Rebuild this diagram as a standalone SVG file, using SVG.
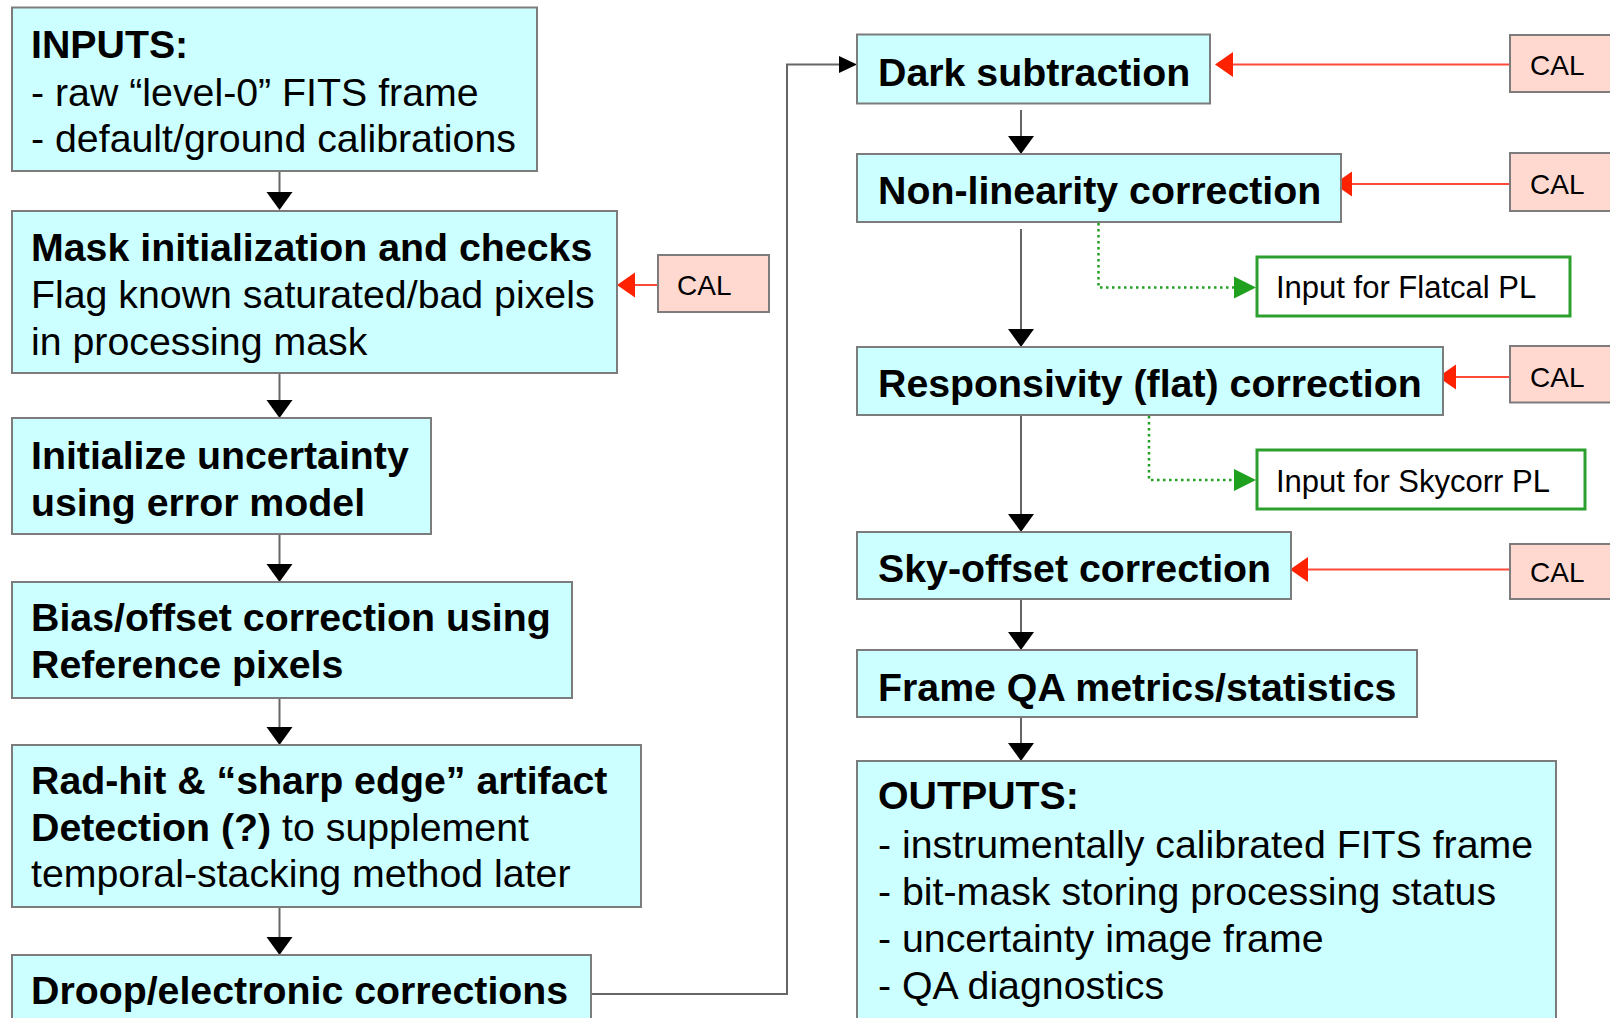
<svg xmlns="http://www.w3.org/2000/svg" width="1610" height="1018" viewBox="0 0 1610 1018">
  <style>
    .step { fill: #ccffff; stroke: #7c7c7c; stroke-width: 2; }
    .cal { fill: #ffd9d0; stroke: #7c7c7c; stroke-width: 2; }
    .out { fill: #ffffff; stroke: #2ca02c; stroke-width: 3; }
    text { font-family: "Liberation Sans", Arial, sans-serif; fill: #000; }
    .t { font-size: 39.3px; }
    .b { font-weight: bold; }
    .small { font-size: 31px; }
    .caltxt { font-size: 28px; }
    .flow { fill: none; stroke: #666666; stroke-width: 2; }
    .feed { fill: none; stroke: #ff4a3a; stroke-width: 2; }
    .aux { fill: none; stroke: #22a022; stroke-width: 2.5; stroke-dasharray: 2.5 3.5; }
  </style>
  <defs>
    <marker id="ah" markerUnits="userSpaceOnUse" markerWidth="18" markerHeight="26" refX="0" refY="13" orient="auto" overflow="visible">
      <path d="M0,0 L18,13 L0,26 z" fill="#000"/>
    </marker>
    <marker id="ah-side" markerUnits="userSpaceOnUse" markerWidth="18" markerHeight="17" refX="0" refY="8.5" orient="auto" overflow="visible">
      <path d="M0,0 L18,8.5 L0,17 z" fill="#000"/>
    </marker>
    <marker id="ah-red" markerUnits="userSpaceOnUse" markerWidth="18" markerHeight="25" refX="0" refY="12.5" orient="auto" overflow="visible">
      <path d="M0,0 L18,12.5 L0,25 z" fill="#ff2200"/>
    </marker>
    <marker id="ah-green" markerUnits="userSpaceOnUse" markerWidth="22" markerHeight="22" refX="0" refY="11" orient="auto" overflow="visible">
      <path d="M0,0 L22,11 L0,22 z" fill="#1fa01f"/>
    </marker>
  </defs>

  <rect width="1610" height="1018" fill="#ffffff"/>

  <!-- connectors -->
  <g id="connectors">
    <!-- left column -->
    <path class="flow" d="M279.5,171 V192" marker-end="url(#ah)"/>
    <path class="flow" d="M279.5,373 V400" marker-end="url(#ah)"/>
    <path class="flow" d="M279.5,534 V564" marker-end="url(#ah)"/>
    <path class="flow" d="M279.5,698 V727" marker-end="url(#ah)"/>
    <path class="flow" d="M279.5,907 V937" marker-end="url(#ah)"/>
    <!-- hand-over to right column -->
    <path class="flow" d="M591,994 H787 V64.5 H839" marker-end="url(#ah-side)"/>
    <!-- right column -->
    <path class="flow" d="M1021,110 V136" marker-end="url(#ah)"/>
    <path class="flow" d="M1021,229 V329" marker-end="url(#ah)"/>
    <path class="flow" d="M1021,415 V514" marker-end="url(#ah)"/>
    <path class="flow" d="M1021,599 V632" marker-end="url(#ah)"/>
    <path class="flow" d="M1021,717 V743" marker-end="url(#ah)"/>
    <!-- calibration feeds -->
    <path class="feed" d="M658,285 H635" marker-end="url(#ah-red)"/>
    <path class="feed" d="M1510,64.5 H1233" marker-end="url(#ah-red)"/>
    <path class="feed" d="M1510,184 H1352" marker-end="url(#ah-red)"/>
    <path class="feed" d="M1510,377 H1456" marker-end="url(#ah-red)"/>
    <path class="feed" d="M1510,569.5 H1308" marker-end="url(#ah-red)"/>
    <!-- side products -->
    <path class="aux" d="M1098.5,223 V287.5 H1234" marker-end="url(#ah-green)"/>
    <path class="aux" d="M1149,416 V480 H1234" marker-end="url(#ah-green)"/>
  </g>

  <!-- left column nodes -->
  <g id="inputs">
    <rect class="step" x="12" y="7.5" width="525" height="163.5"/>
    <text class="t b" x="31" y="58">INPUTS:</text>
    <text class="t" x="31" y="105.5">- raw “level-0” FITS frame</text>
    <text class="t" x="31" y="152">- default/ground calibrations</text>
  </g>
  <g id="mask-init">
    <rect class="step" x="12" y="211" width="605" height="162"/>
    <text class="t b" x="31" y="261">Mask initialization and checks</text>
    <text class="t" x="31" y="308">Flag known saturated/bad pixels</text>
    <text class="t" x="31" y="355">in processing mask</text>
  </g>
  <g id="cal-mask">
    <rect class="cal" x="658" y="255" width="111" height="57"/>
    <text class="caltxt" x="677" y="295">CAL</text>
  </g>
  <g id="uncertainty">
    <rect class="step" x="12" y="418" width="419" height="116"/>
    <text class="t b" x="31" y="469">Initialize uncertainty</text>
    <text class="t b" x="31" y="515.5">using error model</text>
  </g>
  <g id="bias">
    <rect class="step" x="12" y="582" width="560" height="116"/>
    <text class="t b" x="31" y="631">Bias/offset correction using</text>
    <text class="t b" x="31" y="678">Reference pixels</text>
  </g>
  <g id="radhit">
    <rect class="step" x="12" y="745" width="629" height="162"/>
    <text class="t b" x="31" y="794">Rad-hit &amp; “sharp edge” artifact</text>
    <text class="t" x="31" y="840.5"><tspan class="b">Detection (?)</tspan> to supplement</text>
    <text class="t" x="31" y="887">temporal-stacking method later</text>
  </g>
  <g id="droop">
    <rect class="step" x="12" y="955" width="579" height="80"/>
    <text class="t b" x="31" y="1004">Droop/electronic corrections</text>
  </g>

  <!-- right column nodes -->
  <g id="dark">
    <rect class="step" x="857" y="34.5" width="353" height="69"/>
    <text class="t b" x="878" y="85.5">Dark subtraction</text>
  </g>
  <g id="cal-dark">
    <rect class="cal" x="1510" y="35" width="110" height="57"/>
    <text class="caltxt" x="1530" y="75">CAL</text>
  </g>
  <g id="nonlinearity">
    <rect class="step" x="857" y="154" width="484" height="68"/>
    <text class="t b" x="878" y="204">Non-linearity correction</text>
  </g>
  <g id="cal-nonlinearity">
    <rect class="cal" x="1510" y="153" width="110" height="58"/>
    <text class="caltxt" x="1530" y="194">CAL</text>
  </g>
  <g id="flatcal-input">
    <rect class="out" x="1257" y="257" width="313" height="59"/>
    <text class="small" x="1276" y="298">Input for Flatcal PL</text>
  </g>
  <g id="responsivity">
    <rect class="step" x="857" y="347" width="586" height="68"/>
    <text class="t b" x="878" y="397">Responsivity (flat) correction</text>
  </g>
  <g id="cal-responsivity">
    <rect class="cal" x="1510" y="346" width="110" height="56.5"/>
    <text class="caltxt" x="1530" y="387">CAL</text>
  </g>
  <g id="skycorr-input">
    <rect class="out" x="1257" y="450" width="328" height="59"/>
    <text class="small" x="1276" y="492">Input for Skycorr PL</text>
  </g>
  <g id="sky-offset">
    <rect class="step" x="857" y="532" width="434" height="67"/>
    <text class="t b" x="878" y="581.5">Sky-offset correction</text>
  </g>
  <g id="cal-sky">
    <rect class="cal" x="1510" y="544" width="110" height="55"/>
    <text class="caltxt" x="1530" y="582">CAL</text>
  </g>
  <g id="frame-qa">
    <rect class="step" x="857" y="650" width="560" height="67"/>
    <text class="t b" x="878" y="701">Frame QA metrics/statistics</text>
  </g>
  <g id="outputs">
    <rect class="step" x="857" y="761" width="699" height="280"/>
    <text class="t b" x="878" y="809">OUTPUTS:</text>
    <text class="t" x="878" y="857.5">- instrumentally calibrated FITS frame</text>
    <text class="t" x="878" y="904.5">- bit-mask storing processing status</text>
    <text class="t" x="878" y="951.5">- uncertainty image frame</text>
    <text class="t" x="878" y="998.5">- QA diagnostics</text>
  </g>
</svg>
